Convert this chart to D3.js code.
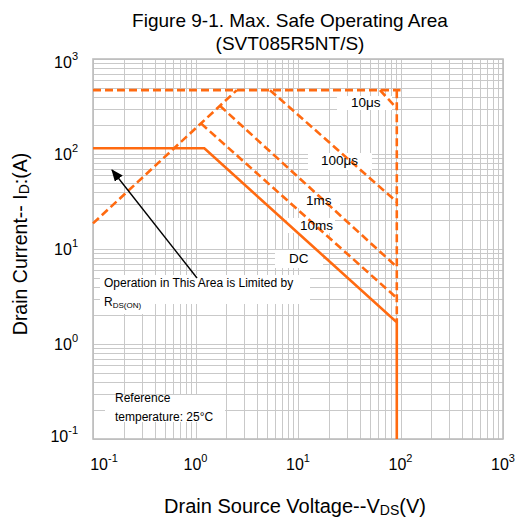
<!DOCTYPE html>
<html>
<head>
<meta charset="utf-8">
<script src="https://cdn.jsdelivr.net/npm/d3@7"></script>
<style>
  html, body { margin: 0; padding: 0; background: #fff; }
  svg { display: block; font-family: "Liberation Sans", Arial, sans-serif; }
</style>
</head>
<body>
<svg id="chart" width="520" height="522"></svg>
<script>
// Safe operating area boundaries, (V_DS in volts, I_D in amps)
const currentLimitTop = [[0.1, 470], [100, 470]];
const rdsOnLimit      = [[0.1, 18.6], [2.53, 470]];
const pulse10us       = [[63, 470], [92, 303]];
const pulse100us      = [[5.33, 470], [92, 31.3]];
const pulse1ms        = [[1.73, 322], [92, 6.47]];
const pulse10ms       = [[1.13, 210], [92, 3.05]];
const voltageEdge     = [[92, 470], [92, 1.69]];
const dcLine          = [[0.1, 115], [1.22, 115], [92, 1.69], [92, 0.1]];

// Axis ticks (decades) and their exponent labels
const xTicks = [0.1, 1, 10, 100, 1000];
const xTickExp = ["-1", "0", "1", "2", "3"];
const yTicks = [0.1, 1, 10, 100, 1000];
const yTickExp = ["-1", "0", "1", "2", "3"];

// Curve labels
const curveLabels = ["10μs", "100μs", "1ms", "10ms", "DC"];

const svg = d3.select("#chart");
const plotL = 93, plotR = 503, plotT = 59, plotB = 439;
const orange = "#ff6a10";

const x = d3.scaleLog().domain([0.1, 1000]).range([plotL, plotR]);
const y = d3.scaleLog().domain([0.1, 1000]).range([plotB, plotT]);

// Log grid: 1..9 in each decade
const gridX = [], gridY = [];
for (let e = -1; e <= 2; e++) {
  for (let m = 1; m <= 9; m++) {
    gridX.push(m * Math.pow(10, e));
    gridY.push(m * Math.pow(10, e));
  }
}
gridX.push(1000); gridY.push(1000);

const grid = svg.append("g").attr("stroke", "#c9c9c9").attr("stroke-width", 1);
grid.selectAll("line.vx").data(gridX).join("line")
  .attr("x1", d => Math.round(x(d)) + 0.5).attr("x2", d => Math.round(x(d)) + 0.5)
  .attr("y1", plotT).attr("y2", plotB);
grid.selectAll("line.hy").data(gridY).join("line")
  .attr("y1", d => Math.round(y(d)) + 0.5).attr("y2", d => Math.round(y(d)) + 0.5)
  .attr("x1", plotL).attr("x2", plotR);

svg.append("rect")
  .attr("x", plotL).attr("y", plotT)
  .attr("width", plotR - plotL).attr("height", plotB - plotT)
  .attr("fill", "none").attr("stroke", "#bdbdbd").attr("stroke-width", 1.6);

// White backing boxes behind annotation text
const boxes = [
  [337, 96, 55, 14],
  [308, 153, 64, 17],
  [293, 193, 47, 15],
  [287, 218, 48, 15],
  [275, 250, 48, 18],
  [100, 275, 210, 29],
  [100, 304, 48, 10],
  [105, 395, 120, 27]
];
svg.append("g").selectAll("rect").data(boxes).join("rect")
  .attr("x", d => d[0]).attr("y", d => d[1])
  .attr("width", d => d[2]).attr("height", d => d[3])
  .attr("fill", "#fff");

// Boundary curves
const line = d3.line().x(d => x(d[0])).y(d => y(d[1]));
const dashed = [currentLimitTop, rdsOnLimit, pulse10us, pulse100us, pulse1ms, pulse10ms, voltageEdge];
svg.append("g").selectAll("path").data(dashed).join("path")
  .attr("d", line)
  .attr("fill", "none").attr("stroke", orange)
  .attr("stroke-width", 2.6).attr("stroke-dasharray", "8,4");
svg.append("path").datum(dcLine)
  .attr("d", line)
  .attr("fill", "none").attr("stroke", orange)
  .attr("stroke-width", 2.6).attr("stroke-linejoin", "miter");

// Curve labels
const labelPos = [[351, 107], [321, 165], [306, 205], [300, 230], [289, 263]];
svg.append("g").selectAll("text").data(curveLabels).join("text")
  .attr("x", (d, i) => labelPos[i][0]).attr("y", (d, i) => labelPos[i][1])
  .attr("font-size", "13.5px").attr("fill", "#000")
  .text(d => d);

// R_DS(on) annotation with arrow
svg.append("defs").append("marker")
  .attr("id", "head").attr("viewBox", "0 0 12 10")
  .attr("refX", 11).attr("refY", 5)
  .attr("markerWidth", 12).attr("markerHeight", 10)
  .attr("markerUnits", "userSpaceOnUse")
  .attr("orient", "auto")
  .append("path").attr("d", "M0,0 L12,5 L0,10 Z").attr("fill", "#000");
svg.append("line")
  .attr("x1", 197).attr("y1", 278).attr("x2", 112).attr("y2", 170)
  .attr("stroke", "#000").attr("stroke-width", 1.4)
  .attr("marker-end", "url(#head)");

svg.append("text").attr("x", 104).attr("y", 287).attr("font-size", "12px")
  .text("Operation in This Area is Limited by");
const rds = svg.append("text").attr("x", 104).attr("y", 306).attr("font-size", "12px");
rds.append("tspan").text("R");
rds.append("tspan").attr("font-size", "8px").attr("dy", 2).text("DS(ON)");

svg.append("text").attr("x", 115).attr("y", 402).attr("font-size", "12px").text("Reference");
svg.append("text").attr("x", 115).attr("y", 421).attr("font-size", "12px").text("temperature: 25°C");

// Tick labels
const xl = svg.append("g").selectAll("text").data(xTicks).join("text")
  .attr("x", d => Math.max(x(d), 104)).attr("y", 470)
  .attr("text-anchor", "middle").attr("font-size", "16px");
xl.append("tspan").text("10");
xl.append("tspan").attr("font-size", "11px").attr("dy", -8).text((d, i) => xTickExp[i]);

const yl = svg.append("g").selectAll("text").data(yTicks).join("text")
  .attr("x", 78).attr("y", d => Math.min(Math.max(y(d) + 6, 68), 442))
  .attr("text-anchor", "end").attr("font-size", "16px");
yl.append("tspan").text("10");
yl.append("tspan").attr("font-size", "11px").attr("dy", -8).text((d, i) => yTickExp[i]);

// Titles
svg.append("text").attr("x", 290).attr("y", 27).attr("text-anchor", "middle")
  .attr("font-size", "19px").text("Figure 9-1. Max. Safe Operating Area");
svg.append("text").attr("x", 290).attr("y", 50).attr("text-anchor", "middle")
  .attr("font-size", "19px").text("(SVT085R5NT/S)");

const xt = svg.append("text").attr("x", 295).attr("y", 513).attr("text-anchor", "middle")
  .attr("font-size", "20px");
xt.append("tspan").text("Drain Source Voltage--V");
xt.append("tspan").attr("font-size", "14px").attr("dy", 2).text("DS");
xt.append("tspan").attr("dy", -2).text("(V)");

const yt = svg.append("text").attr("transform", "translate(27,244) rotate(-90)")
  .attr("text-anchor", "middle").attr("font-size", "19.5px");
yt.append("tspan").text("Drain Current-- I");
yt.append("tspan").attr("font-size", "14px").attr("dy", 2).text("D");
yt.append("tspan").attr("dy", -2).text(":(A)");
</script>
</body>
</html>
